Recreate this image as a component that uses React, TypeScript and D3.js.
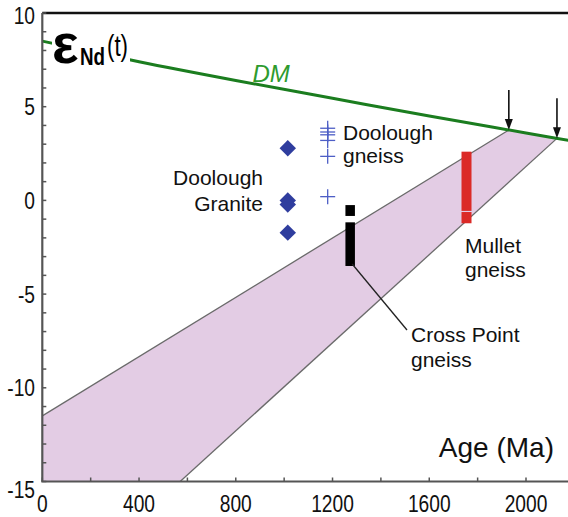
import React from "react";
import * as d3 from "d3";

// ---- data ----
const dmAge = [0, 400, 800, 1200, 1600, 2000, 2200];
const dmEps = [8.5, 7.4, 6.4, 5.45, 4.5, 3.6, 3.15];

const bandUpperAge = [0, 1929];
const bandUpperEps = [-11.5, 3.76];
const bandLowerAge = [570, 2128];
const bandLowerEps = [-15, 3.31];

const modelAges = [1929, 2128];
const modelEps = [3.76, 3.31];

const graniteAge = 1015;
const graniteEps = [2.78, 0.0, -0.22, -1.72];

const gneissAge = 1180;
const gneissEps = [3.85, 3.65, 3.5, 3.2, 2.35, 0.2];

const crossPointAge = 1273;
const crossPointTop = [-0.25, -1.17];
const crossPointBottom = [-0.83, -3.5];

const mulletAge = 1754;
const mulletTop = [2.6, -0.62];
const mulletBottom = [-0.56, -1.22];

const xTickLabels = [0, 400, 800, 1200, 1600, 2000];
const yTickLabels = [10, 5, 0, -5, -10, -15];
const xMinorStep = 200;
const yMinorStep = 1;

const FONT = "'Liberation Sans', Arial, Helvetica, sans-serif";

export default function App() {
  const W = 568;
  const H = 517;
  const left = 42.3;
  const top = 13;
  const bottom = 481.5;
  const right = W;

  const x = d3.scaleLinear().domain([0, 2000]).range([left, 526]);
  const y = d3.scaleLinear().domain([-15, 10]).range([bottom, top]);

  const line = d3
    .line<[number, number]>()
    .x((d) => x(d[0]))
    .y((d) => y(d[1]));

  const dmPts: [number, number][] = dmAge.map((a, i) => [a, dmEps[i]]);
  const dmPath = d3
    .line<[number, number]>()
    .x((d) => x(d[0]))
    .y((d) => y(d[1]))
    .curve(d3.curveMonotoneX)(dmPts);

  const bandPoly: [number, number][] = [
    [bandUpperAge[0], bandUpperEps[0]],
    [bandUpperAge[1], bandUpperEps[1]],
    [bandLowerAge[1], bandLowerEps[1]],
    [bandLowerAge[0], bandLowerEps[0]],
    [0, -15],
  ];

  const diamond = d3.symbol().type(d3.symbolSquare).size(135)();

  const xMinor = d3.range(0, 2401, xMinorStep);
  const yMinor = d3.range(-15, 10.001, yMinorStep);

  const tickLabel = (
    txt: string,
    tx: number,
    ty: number,
    anchor: string,
    key: string
  ) => (
    <text
      key={key}
      transform={`translate(${tx},${ty}) scale(0.8,1)`}
      textAnchor={anchor}
      fontSize={24}
      fontFamily={FONT}
      fill="#111"
    >
      {txt}
    </text>
  );

  const barW = 9.5;

  return (
    <div style={{ position: "absolute", left: 0, top: 0 }}>
      <svg width={W} height={H} style={{ display: "block", background: "#fff" }}>
        <defs>
          <clipPath id="plot">
            <rect x={left} y={top} width={right - left} height={bottom - top} />
          </clipPath>
        </defs>

        <g clipPath="url(#plot)">
          {/* band */}
          <path d={line(bandPoly) || ""} fill="#e3cce4" stroke="none" />
          <path
            d={line([
              [bandUpperAge[0], bandUpperEps[0]],
              [bandUpperAge[1], bandUpperEps[1]],
            ]) || ""}
            stroke="#6a6a6a"
            strokeWidth={1.3}
            fill="none"
          />
          <path
            d={line([
              [bandLowerAge[0], bandLowerEps[0]],
              [bandLowerAge[1], bandLowerEps[1]],
            ]) || ""}
            stroke="#6a6a6a"
            strokeWidth={1.3}
            fill="none"
          />
          <path
            d={line([
              [bandUpperAge[1], bandUpperEps[1]],
              [bandLowerAge[1], bandLowerEps[1]],
            ]) || ""}
            stroke="#8a6a8a"
            strokeWidth={0.8}
            fill="none"
          />

          {/* DM line */}
          <path d={dmPath || ""} stroke="#1b7d1f" strokeWidth={3} fill="none" />
        </g>

        {/* epsilon label with white background */}
        <rect x={52} y={27} width={78} height={44} fill="#fff" />
        <text x={52} y={63} fontSize={56} fontWeight="bold" fontFamily={FONT} fill="#000">
          ε
        </text>
        <text
          x={80}
          y={65}
          fontSize={24}
          fontWeight="bold"
          fontFamily={FONT}
          fill="#000"
          textLength={25}
          lengthAdjust="spacingAndGlyphs"
        >
          Nd
        </text>
        <text
          x={107}
          y={56}
          fontSize={29}
          fontFamily={FONT}
          fill="#000"
          textLength={21}
          lengthAdjust="spacingAndGlyphs"
        >
          (t)
        </text>

        {/* DM label */}
        <text x={252.5} y={81.5} fontSize={24} fontStyle="italic" fontFamily={FONT} fill="#2e9b2e">
          DM
        </text>

        {/* Doolough Granite diamonds */}
        {graniteEps.map((v, i) => (
          <path
            key={"g" + i}
            d={diamond || ""}
            transform={`translate(${x(graniteAge)},${y(v)}) rotate(45)`}
            fill="#2f3d9e"
          />
        ))}

        {/* Doolough gneiss crosses */}
        {gneissEps.map((v, i) => (
          <g key={"c" + i} stroke="#4d5ec6" strokeWidth={1.3}>
            <line x1={x(gneissAge) - 7.5} x2={x(gneissAge) + 7.5} y1={y(v)} y2={y(v)} />
            <line x1={x(gneissAge)} x2={x(gneissAge)} y1={y(v) - 7.5} y2={y(v) + 7.5} />
          </g>
        ))}

        {/* Cross Point gneiss bars */}
        {crossPointTop.map((t, i) => (
          <rect
            key={"cp" + i}
            x={x(crossPointAge) - barW / 2}
            y={y(t)}
            width={barW}
            height={y(crossPointBottom[i]) - y(t)}
            fill="#000"
          />
        ))}

        {/* Mullet gneiss bars */}
        {mulletTop.map((t, i) => (
          <rect
            key={"m" + i}
            x={x(mulletAge) - 5}
            y={y(t)}
            width={10}
            height={y(mulletBottom[i]) - y(t)}
            fill="#db2a27"
          />
        ))}

        {/* leader line */}
        <line
          x1={x(crossPointAge) + 2}
          y1={y(crossPointBottom[1]) - 2}
          x2={407}
          y2={330}
          stroke="#222"
          strokeWidth={1.3}
        />

        {/* model-age arrows */}
        {modelAges.map((a, i) => {
          const ax = x(a);
          const ty = y(modelEps[i]);
          return (
            <g key={"a" + i}>
              <line x1={ax} x2={ax} y1={ty - 40} y2={ty - 8} stroke="#111" strokeWidth={1.6} />
              <path
                d={`M${ax - 4},${ty - 11} L${ax + 4},${ty - 11} L${ax},${ty} Z`}
                fill="#111"
              />
            </g>
          );
        })}

        {/* axes & frame */}
        <line x1={left} x2={right} y1={top} y2={top} stroke="#111" strokeWidth={2.5} />
        <line x1={left} x2={left} y1={top} y2={bottom} stroke="#555" strokeWidth={2.2} />
        <line x1={left - 1} x2={right} y1={bottom} y2={bottom} stroke="#555" strokeWidth={2.2} />

        {xMinor.map((t) =>
          x(t) <= right ? (
            <line key={"xt" + t} x1={x(t)} x2={x(t)} y1={bottom} y2={bottom - 4} stroke="#555" strokeWidth={1.5} />
          ) : null
        )}
        {yMinor.map((t) => (
          <line key={"yt" + t} x1={left} x2={left + 4} y1={y(t)} y2={y(t)} stroke="#555" strokeWidth={1.5} />
        ))}

        {xTickLabels.map((t) => tickLabel(String(t), x(t), 511.5, "middle", "xl" + t))}
        {yTickLabels.map((t, i) =>
          tickLabel(
            String(t),
            35,
            y(t) + 8.5 + (i === yTickLabels.length - 1 ? 8 : 0) + (i === 0 ? 2 : 0),
            "end",
            "yl" + t
          )
        )}

        {/* annotation texts */}
        <g fontFamily={FONT} fontSize={21} fill="#111">
          <text x={343} y={140}>Doolough</text>
          <text x={343} y={163}>gneiss</text>
          <text x={263} y={185} textAnchor="end">Doolough</text>
          <text x={263} y={211} textAnchor="end">Granite</text>
          <text x={465} y={253}>Mullet</text>
          <text x={465} y={277}>gneiss</text>
          <text x={411} y={342}>Cross Point</text>
          <text x={411} y={367}>gneiss</text>
        </g>
        <text x={554} y={457} textAnchor="end" fontFamily={FONT} fontSize={28} fill="#111">
          Age (Ma)
        </text>
      </svg>
    </div>
  );
}
